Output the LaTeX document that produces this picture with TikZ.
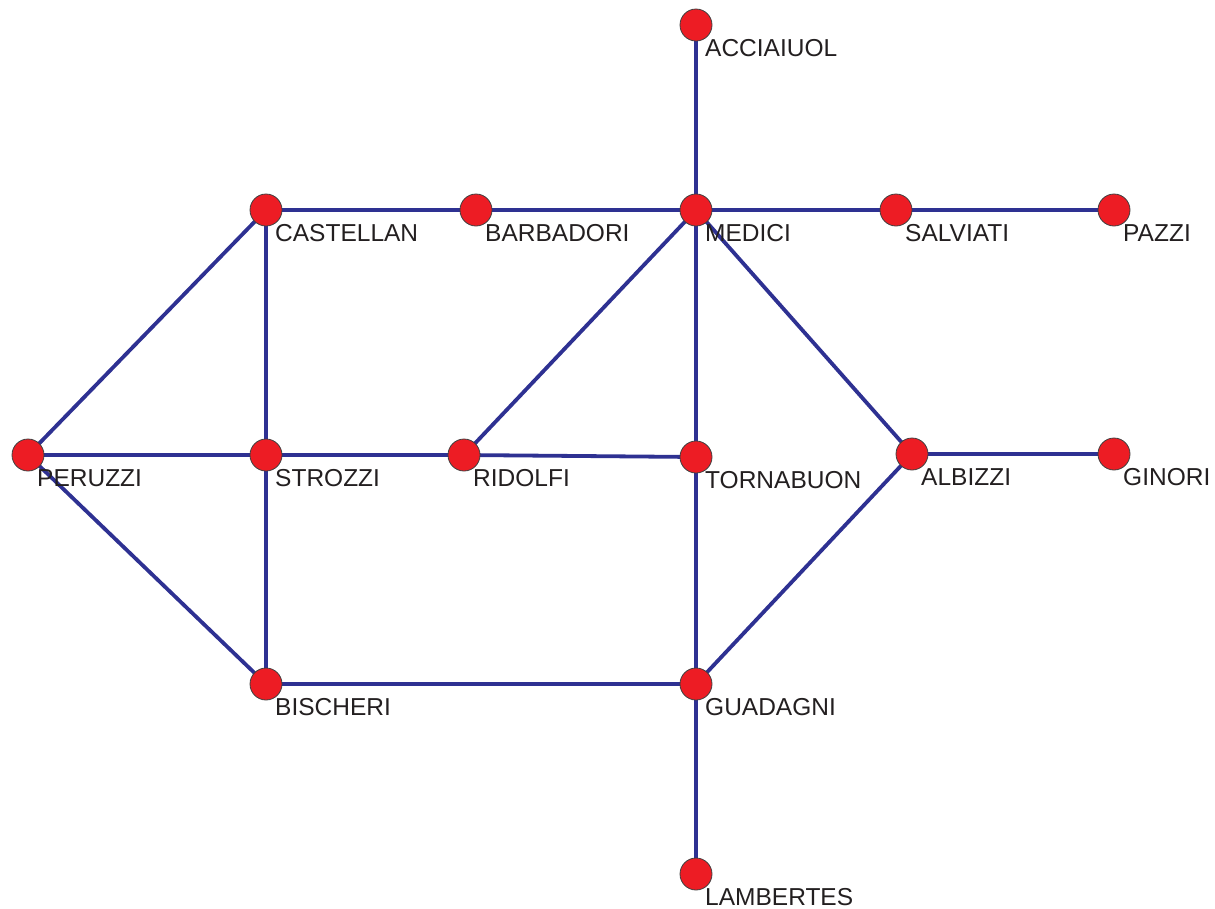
\documentclass[tikz,border=0pt]{standalone}
\usepackage{fontspec}
\setmainfont{Liberation Sans}
\definecolor{edgeblue}{HTML}{2E3192}
\definecolor{nodered}{HTML}{ED1C24}
\definecolor{txt}{HTML}{231F20}
\begin{document}
\begin{tikzpicture}[x=1pt,y=-1pt,
  vert/.style={circle,fill=nodered,draw=black!75,line width=0.8pt,minimum size=32pt,inner sep=0pt},
  lab/.style={anchor=base west,font=\fontsize{24.5}{24.5}\selectfont,text=txt,inner sep=0pt},
  link/.style={draw=edgeblue,line width=3.8pt}]
\useasboundingbox (0,0) rectangle (1215,908);
\foreach \n/\x/\y/\t in {
  acc/696/25/ACCIAIUOL, cas/266/210/CASTELLAN, bar/476/210/BARBADORI,
  med/696/210/MEDICI, sal/896/210/SALVIATI, paz/1114/210/PAZZI,
  per/28/455/PERUZZI, str/266/455/STROZZI, rid/464/455/RIDOLFI,
  tor/696/457/TORNABUON, alb/912/454/ALBIZZI, gin/1114/454/GINORI,
  bis/266/684/BISCHERI, gua/696/684/GUADAGNI, lam/696/874/LAMBERTES}{
  \coordinate (\n) at (\x,\y);
}
\foreach \a/\b in {acc/med,cas/bar,bar/med,med/sal,sal/paz,cas/per,cas/str,
  med/rid,med/tor,med/alb,alb/gin,per/str,str/rid,rid/tor,per/bis,str/bis,
  tor/gua,alb/gua,bis/gua,gua/lam}{
  \draw[link] (\a) -- (\b);
}
\foreach \n/\x/\y/\t in {
  acc/696/25/ACCIAIUOL, cas/266/210/CASTELLAN, bar/476/210/BARBADORI,
  med/696/210/MEDICI, sal/896/210/SALVIATI, paz/1114/210/PAZZI,
  per/28/455/PERUZZI, str/266/455/STROZZI, rid/464/455/RIDOLFI,
  tor/696/457/TORNABUON, alb/912/454/ALBIZZI, gin/1114/454/GINORI,
  bis/266/684/BISCHERI, gua/696/684/GUADAGNI, lam/696/874/LAMBERTES}{
  \node[vert] (\n v) at (\n) {};
  \node[lab] (\n l) at (\x+9,\y+31) {\t};
}
\end{tikzpicture}
\end{document}
